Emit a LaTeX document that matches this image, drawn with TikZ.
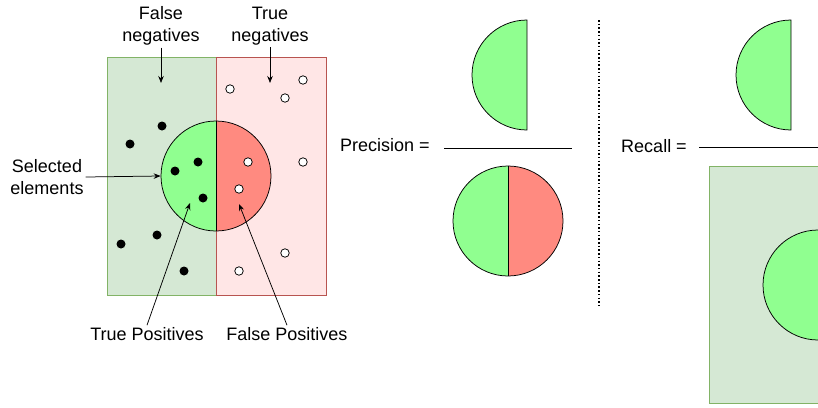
\documentclass[tikz,border=0pt]{standalone}
\usepackage{fontspec}
\setmainfont{Liberation Sans}
\usetikzlibrary{arrows.meta}
\definecolor{fngreen}{HTML}{D5E8D4}
\definecolor{fngreenline}{HTML}{82B366}
\definecolor{tnred}{HTML}{FFE6E6}
\definecolor{tnredline}{HTML}{B85450}
\definecolor{tpgreen}{HTML}{90FF90}
\definecolor{fpred}{HTML}{FF8A80}
\begin{document}
\begin{tikzpicture}[x=1pt,y=-1pt,
  lbl/.style={font=\fontsize{18}{22}\selectfont, align=center, inner sep=2pt},
  arr/.style={-{Stealth[length=7pt,width=5.5pt]}, line width=0.75pt},
  fdot/.style={circle, fill=black, minimum size=9pt, inner sep=0pt},
  odot/.style={circle, draw=black, fill=white, line width=0.75pt, minimum size=8.5pt, inner sep=0pt},
  outline/.style={draw=black, line width=0.75pt},
  bigcirc/.style={circle, draw=black, line width=0.75pt, minimum size=110pt, inner sep=0pt}]

\path[use as bounding box] (0,0) rectangle (818,407);
\clip (0,0) rectangle (818,407);

% ---------- left diagram ----------
\draw[fill=fngreen, draw=fngreenline, line width=0.75pt] (107,57) rectangle (216,295);
\draw[fill=tnred, draw=tnredline, line width=0.75pt] (216,57) rectangle (326,295);

\fill[tpgreen] (216,121) arc[start angle=270, end angle=90, radius=55] -- cycle;
\fill[fpred] (216,121) arc[start angle=-90, end angle=90, radius=55] -- cycle;
\node[bigcirc] (sel) at (216,176) {};
\draw[outline] (sel.north) -- (sel.south);

% filled dots (positives)
\node[fdot] (d1) at (162,126) {};
\node[fdot] (d2) at (130,144) {};
\node[fdot] (d3) at (198,162) {};
\node[fdot] (d4) at (175,171) {};
\node[fdot] (d5) at (203,198) {};
\node[fdot] (d6) at (157,235) {};
\node[fdot] (d7) at (121,244) {};
\node[fdot] (d8) at (184,271) {};
% open dots (negatives)
\node[odot] (o1) at (230,89) {};
\node[odot] (o2) at (303,80) {};
\node[odot] (o3) at (285,98) {};
\node[odot] (o4) at (248,162) {};
\node[odot] (o5) at (303,162) {};
\node[odot] (o6) at (239,189) {};
\node[odot] (o7) at (285,253) {};
\node[odot] (o8) at (239,271) {};

% labels
\node[lbl] (fn) at (161,26) {False\\negatives};
\node[lbl] (tn) at (270,26) {True\\negatives};
\coordinate (fnend) at (161,83);
\coordinate (tnend) at (270,83);
\draw[arr] (fn.south) -- (fnend);
\draw[arr] (tn.south) -- (tnend);

\node[lbl] (sl) at (47,177) {Selected\\elements};
\draw[arr] (sl.east) -- (sel.west);

\node[lbl] (tp) at (147,334) {True Positives};
\node[lbl] (fp) at (287,334) {False Positives};
\coordinate (tpend) at (190,203);
\coordinate (fpend) at (239,204);
\draw[arr] (tp.north) -- (tpend);
\draw[arr] (fp.north) -- (fpend);

% ---------- precision ----------
\node[lbl] (prec) at (385,145) {Precision =};
\coordinate (pl1) at (444,148);
\coordinate (pl2) at (572,148);
\draw[line width=0.75pt] (pl1) -- (pl2);
\filldraw[fill=tpgreen, outline] (527,20) arc[start angle=270, end angle=90, radius=55] -- cycle;
\fill[tpgreen] (508,166) arc[start angle=270, end angle=90, radius=55] -- cycle;
\fill[fpred] (508,166) arc[start angle=-90, end angle=90, radius=55] -- cycle;
\node[bigcirc] (pden) at (508,221) {};
\draw[outline] (pden.north) -- (pden.south);

% ---------- separator ----------
\coordinate (sep1) at (599,20);
\coordinate (sep2) at (599,306);
\draw[line width=1.5pt, dash pattern=on 1.5pt off 2.2pt] (sep1) -- (sep2);

% ---------- recall ----------
\node[lbl] (rec) at (654,146) {Recall =};
\coordinate (rl1) at (699,147);
\coordinate (rl2) at (830,147);
\draw[line width=0.75pt] (rl1) -- (rl2);
\filldraw[fill=tpgreen, outline] (791,20) arc[start angle=270, end angle=90, radius=55] -- cycle;
\draw[fill=fngreen, draw=fngreenline, line width=0.75pt] (709,166) rectangle (930,403.5);
\fill[tpgreen] (818,230) arc[start angle=270, end angle=90, radius=55] -- cycle;
\node[bigcirc] (rden) at (818,285) {};
\end{tikzpicture}
\end{document}
